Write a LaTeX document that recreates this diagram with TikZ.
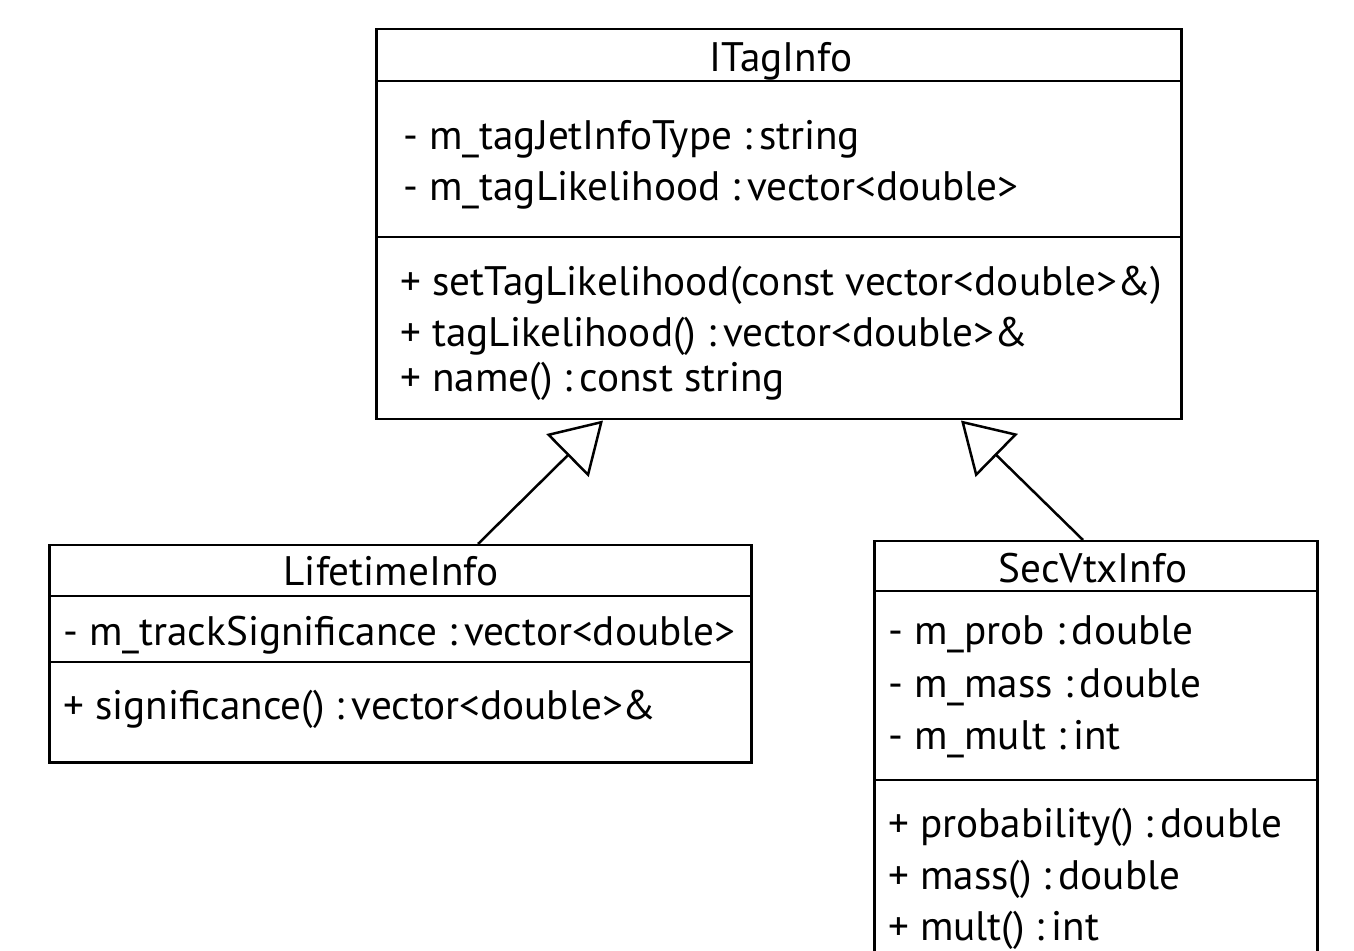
\documentclass[tikz,border=0pt]{standalone}
\usepackage{fontspec}
\setmainfont{PT Sans}
\usetikzlibrary{arrows.meta}

\tikzset{
    classbox/.style={draw, line width=1.25pt, inner sep=0pt, anchor=north west},
    cname/.style={anchor=base, inner sep=0pt, font=\fontsize{20.6pt}{24pt}\selectfont},
    member/.style={anchor=base west, inner sep=0pt, font=\fontsize{20.6pt}{24pt}\selectfont},
    sepline/.style={line width=1.25pt},
    inherit/.style={line width=1.25pt, -{Triangle[open,length=25pt,width=30pt]}}
}

\begin{document}
\begin{tikzpicture}[x=0.5pt,y=-0.5pt]
    \useasboundingbox (0,0) rectangle (1354,951);
    \clip (0,0) rectangle (1354,951);

    % ITagInfo
    \node[classbox, minimum width=402.5pt, minimum height=195pt] (itag) at (375,28) {};
    \draw[sepline] (itag.west |- 0,81) -- (itag.east |- 0,81);
    \draw[sepline] (itag.west |- 0,237) -- (itag.east |- 0,237);
    \node[cname] (itagname) at (781,72) {ITagInfo};
    \node[member] (itaga1) at (403,150) {- m\_tagJetInfoType :\,string};
    \node[member] (itaga2) at (403,201) {- m\_tagLikelihood :\,vector<double>};
    \node[member] (itagm1) at (400,296) {+ setTagLikelihood(const vector<double>\&)};
    \node[member] (itagm2) at (400,347) {+ tagLikelihood() :\,vector<double>\&};
    \node[member] (itagm3) at (400,392) {+ name() :\,const string};

    % LifetimeInfo
    \node[classbox, minimum width=351pt, minimum height=108.5pt] (life) at (48,544) {};
    \draw[sepline] (life.west |- 0,596) -- (life.east |- 0,596);
    \draw[sepline] (life.west |- 0,662) -- (life.east |- 0,662);
    \node[cname] (lifename) at (391,586) {LifetimeInfo};
    \node[member] (lifea1) at (63,645) {- m\_trackSignificance :\,vector<double>};
    \node[member] (lifem1) at (63,719) {+ significance() :\,vector<double>\&};

    % SecVtxInfo
    \node[classbox, minimum width=221.5pt, minimum height=215pt] (svtx) at (873,540) {};
    \draw[sepline] (svtx.west |- 0,591) -- (svtx.east |- 0,591);
    \draw[sepline] (svtx.west |- 0,780) -- (svtx.east |- 0,780);
    \node[cname] (svtxname) at (1093,582) {SecVtxInfo};
    \node[member] (svtxa1) at (888,644) {- m\_prob :\,double};
    \node[member] (svtxa2) at (888,697) {- m\_mass :\,double};
    \node[member] (svtxa3) at (888,749) {- m\_mult :\,int};
    \node[member] (svtxm1) at (888,837) {+ probability() :\,double};
    \node[member] (svtxm2) at (888,889) {+ mass() :\,double};
    \node[member] (svtxm3) at (888,940) {+ mult() :\,int};

    % inheritance
    \draw[inherit] (478,0 |- life.north) -- (603,0 |- itag.south);
    \draw[inherit] (1083,0 |- svtx.north) -- (961,0 |- itag.south);
\end{tikzpicture}
\end{document}
